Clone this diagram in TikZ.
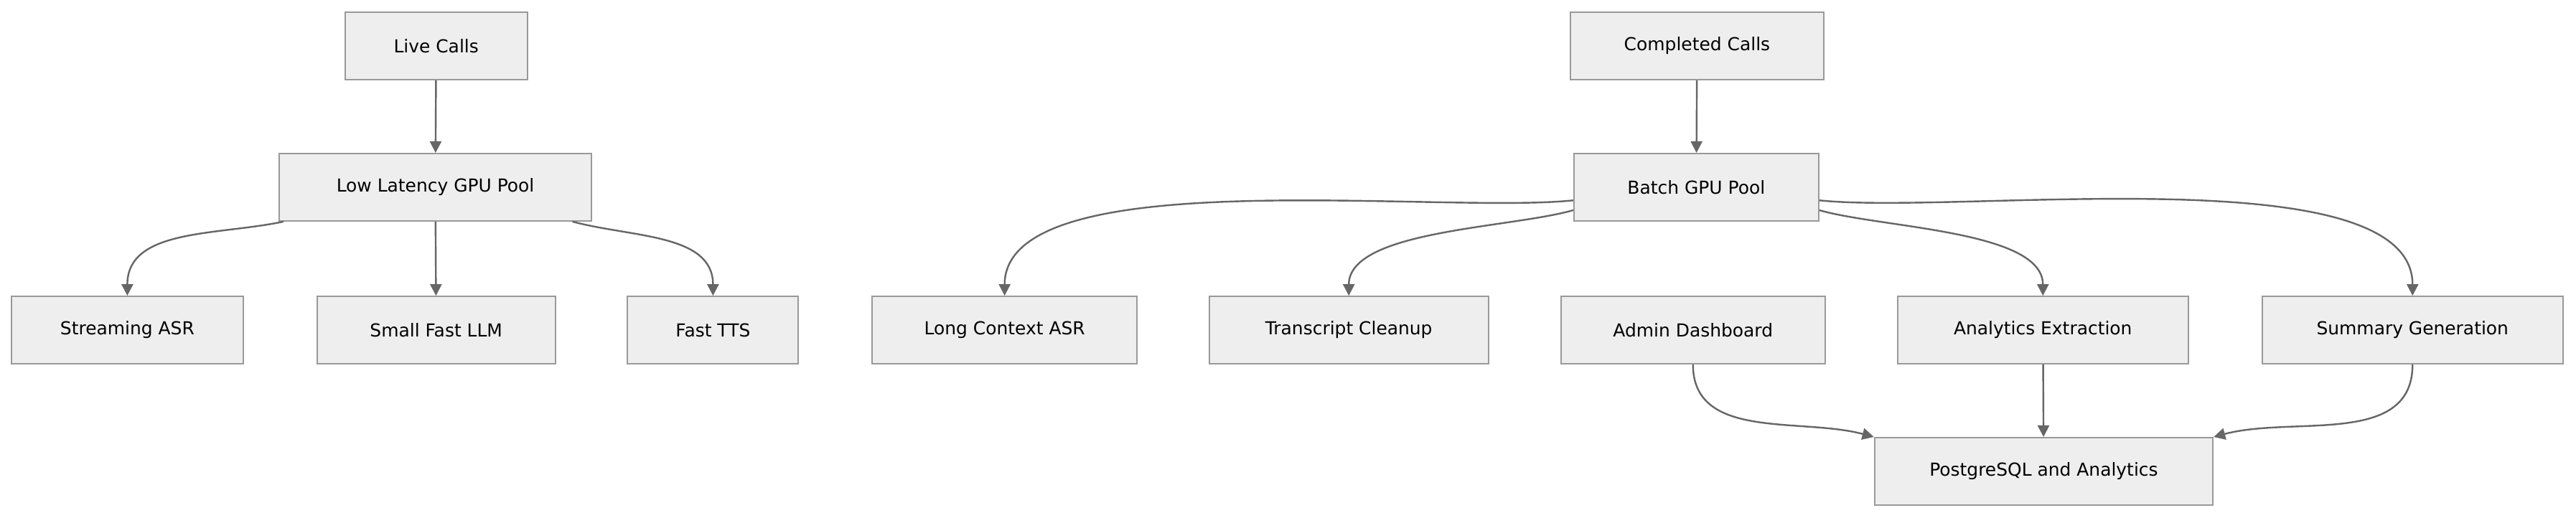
\documentclass[tikz,border=0pt]{standalone}
\usepackage{fontspec}
\setmainfont{DejaVu Sans}
\usetikzlibrary{arrows.meta,positioning}
\definecolor{boxfill}{HTML}{EEEEEE}
\definecolor{boxline}{HTML}{999999}
\definecolor{linkcol}{HTML}{666666}

\begin{document}
\begin{tikzpicture}[
    x=0.02cm, y=0.02cm,
    every node/.style={font=\fontsize{6.2}{7}\selectfont},
    box/.style={rectangle, draw=boxline, fill=boxfill, line width=0.5pt, minimum height=0.82cm, inner sep=0pt},
    link/.style={draw=linkcol, line width=0.6pt, -{Triangle[length=4pt,width=4pt]}}
]
\useasboundingbox (0,0) rectangle (1568,-315);

% live path
\node[box, minimum width=2.22cm] (live) at (265.5,-28) {Live Calls};
\node[box, minimum width=3.80cm] (lowpool) at (265,-114) {Low Latency GPU Pool};
\node[box, minimum width=2.82cm] (sasr) at (77.5,-201) {Streaming ASR};
\node[box, minimum width=2.90cm] (sllm) at (265.5,-201) {Small Fast LLM};
\node[box, minimum width=2.08cm] (ftts) at (434,-201) {Fast TTS};

% batch path
\node[box, minimum width=3.08cm] (done) at (1033,-28) {Completed Calls};
\node[box, minimum width=2.98cm] (batchpool) at (1032.5,-114) {Batch GPU Pool};
\node[box, minimum width=3.22cm] (lasr) at (611.5,-201) {Long Context ASR};
\node[box, minimum width=3.40cm] (clean) at (821,-201) {Transcript Cleanup};
\node[box, minimum width=3.22cm] (admin) at (1030.5,-201) {Admin Dashboard};
\node[box, minimum width=3.54cm] (extract) at (1243.5,-201) {Analytics Extraction};
\node[box, minimum width=3.66cm] (summary) at (1468.5,-201) {Summary Generation};
\node[box, minimum width=4.12cm] (pg) at (1244,-287) {PostgreSQL and Analytics};

\draw[link] (live) -- (lowpool);
\draw[link] (lowpool.south west) ++(3,0) to[out=192,in=90] (sasr.north);
\draw[link] (lowpool) -- (sllm);
\draw[link] (lowpool.south east) ++(-12,0) to[out=-15,in=90] (ftts.north);

\draw[link] (done) -- (batchpool);
\draw[link] (batchpool.west) ++(0,-8) to[out=186,in=90,looseness=0.6] (lasr.north);
\draw[link] (batchpool.west) ++(0,-14) to[out=196,in=90,looseness=0.7] (clean.north);
\draw[link] (batchpool.east) ++(0,-14) to[out=-16,in=90,looseness=0.7] (extract.north);
\draw[link] (batchpool.east) ++(0,-8) to[out=-6,in=90,looseness=0.6] (summary.north);

\draw[link] (admin.south) to[out=-90,in=165] (pg.north west);
\draw[link] (extract) -- (pg);
\draw[link] (summary.south) to[out=-90,in=15] (pg.north east);
\end{tikzpicture}
\end{document}
